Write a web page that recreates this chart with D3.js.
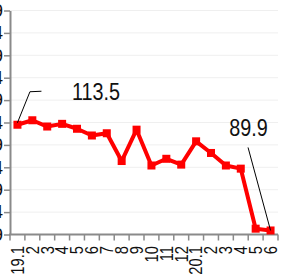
<!DOCTYPE html>
<html>
<head>
<meta charset="utf-8">
<script src="https://cdn.jsdelivr.net/npm/d3@7"></script>
<style>
    body { margin: 0; background: #fff; }
    svg { display: block; }
    text { font-family: "Liberation Sans", Arial, sans-serif; fill: #111; }
</style>
</head>
<body>
<div id="chart"></div>
<script>
// data
const monthLabels = ["19.1", "2", "3", "4", "5", "6", "7", "8", "9", "10", "11", "12",
                     "20.1", "2", "3", "4", "5", "6"]
const values = [113.5, 114.5, 113.1, 113.7, 112.6, 111.1, 111.6, 105.4, 112.4,
                104.4, 105.9, 104.6, 109.8, 107.2, 104.4, 103.7, 90.3, 89.9]
const yDomain = [89, 139]
const yTicks = d3.range(89, 140, 5)

const width = 293, height = 280
const margin = {top: 10.5, right: 15, bottom: 45.5, left: 10}
// the reference uses a condensed face; squeeze the regular one
const narrow = 0.86

let svg = d3.select("#chart")
            .append("svg")
                .attr("width", width)
                .attr("height", height)

let x = d3.scaleBand()
            .domain(d3.range(values.length))
            .range([margin.left, width - margin.right])
let y = d3.scaleLinear()
            .domain(yDomain)
            .range([height - margin.bottom, margin.top])
let bw = x.bandwidth()
let cx = i => x(i) + bw / 2

// gridlines
svg.append("g")
    .selectAll("line")
    .data(yTicks)
    .enter().append("line")
        .attr("x1", margin.left)
        .attr("x2", width - margin.right)
        .attr("y1", d => y(d))
        .attr("y2", d => y(d))
        .attr("stroke", "#efefef")

// y axis (labels mostly cut off at the left edge, as in the reference)
svg.append("g")
    .attr("transform", `translate(${margin.left},0)`)
    .call(d3.axisLeft(y).tickValues(yTicks).tickSize(6).tickSizeOuter(0).tickPadding(1))
    .call(g => g.select(".domain").attr("stroke", "#8a8a8a").attr("stroke-width", 2))
    .call(g => g.selectAll(".tick line").attr("stroke", "#8a8a8a").attr("stroke-width", 1.5))
    .call(g => g.selectAll(".tick text").attr("font-size", 18).attr("font-family", null).attr("fill", "#111"))

// x axis: ticks on band edges, labels rotated
let xAxis = svg.append("g")
xAxis.append("line")
    .attr("x1", margin.left - 1)
    .attr("x2", width - margin.right)
    .attr("y1", y(yDomain[0]))
    .attr("y2", y(yDomain[0]))
    .attr("stroke", "#8a8a8a")
    .attr("stroke-width", 2)
xAxis.selectAll(".xtick")
    .data(d3.range(values.length + 1))
    .enter().append("line")
        .attr("class", "xtick")
        .attr("x1", i => i < values.length ? x(i) : x(i - 1) + bw)
        .attr("x2", i => i < values.length ? x(i) : x(i - 1) + bw)
        .attr("y1", y(yDomain[0]))
        .attr("y2", y(yDomain[0]) + 6)
        .attr("stroke", "#8a8a8a")
        .attr("stroke-width", 1.5)
xAxis.selectAll(".xlabel")
    .data(monthLabels)
    .enter().append("text")
        .attr("class", "xlabel")
        .attr("transform", (d, i) => `translate(${cx(i)},${y(yDomain[0]) + 11.5}) rotate(-90) scale(0.82,1)`)
        .attr("dy", "0.35em")
        .attr("text-anchor", "end")
        .attr("font-size", 18)
        .text(d => d)

// line + markers
let line = d3.line()
                .x((d, i) => cx(i))
                .y(d => y(d))
svg.append("path")
    .datum(values)
    .attr("d", line)
    .attr("fill", "none")
    .attr("stroke", "#ff0000")
    .attr("stroke-width", 4)
    .attr("stroke-linejoin", "round")

svg.append("g")
    .selectAll("rect")
    .data(values)
    .enter().append("rect")
        .attr("x", (d, i) => cx(i) - 4)
        .attr("y", d => y(d) - 4)
        .attr("width", 8)
        .attr("height", 8)
        .attr("fill", "#ff0000")

// data label callouts
let first = 0, last = values.length - 1
let fx = cx(first), fy = y(values[first])
svg.append("path")
    .attr("d", `M${fx},${fy - 2} L${fx + 12.5},${fy - 33} L${fx + 24},${fy - 33.5}`)
    .attr("fill", "none")
    .attr("stroke", "#000")
    .attr("stroke-width", 1)
svg.append("text")
    .attr("transform", `translate(${fx + 54.5},${fy - 24.5}) scale(${narrow},1)`)
    .attr("font-size", 23)
    .text(values[first].toFixed(1))

let lx = cx(last), ly = y(values[last])
svg.append("line")
    .attr("x1", lx)
    .attr("y1", ly)
    .attr("x2", lx - 22.5)
    .attr("y2", ly - 83)
    .attr("stroke", "#000")
    .attr("stroke-width", 1)
svg.append("text")
    .attr("transform", `translate(${lx - 22},${ly - 94.5}) scale(${narrow},1)`)
    .attr("text-anchor", "middle")
    .attr("font-size", 23)
    .text(values[last].toFixed(1))
</script>
</body>
</html>
